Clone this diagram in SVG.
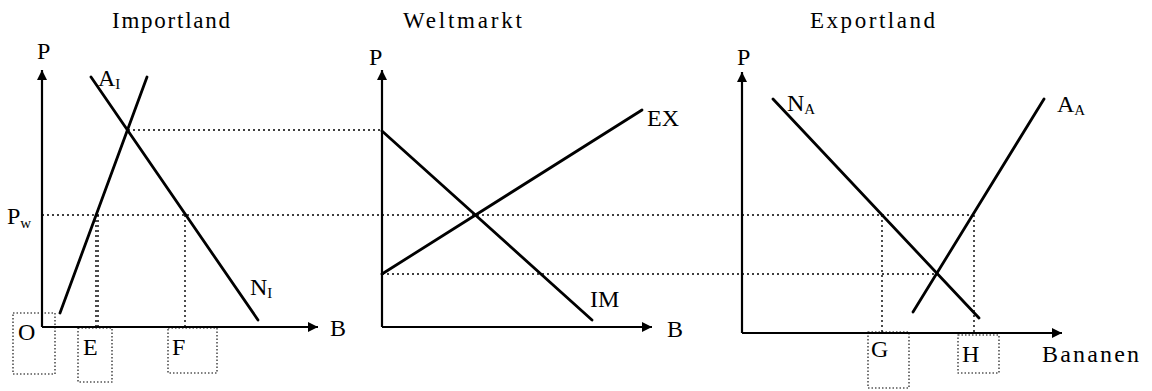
<svg xmlns="http://www.w3.org/2000/svg" width="1152" height="391" viewBox="0 0 1152 391">
<defs>
<marker id="arr" viewBox="0 0 10 10" refX="10" refY="5" markerWidth="11" markerHeight="10" markerUnits="userSpaceOnUse" orient="auto">
<path d="M0,0 L10,5 L0,10 z" fill="#000"/>
</marker>
<style>
text{font-family:"Liberation Serif","Times New Roman",serif;font-size:24px;fill:#000}
.sub{font-size:15px}
.title{font-size:23px}
.axis{stroke:#000;stroke-width:2.2;fill:none}
.curve{stroke:#000;stroke-width:2.8;fill:none;stroke-linecap:round}
.dot{stroke:#000;stroke-width:1.4;stroke-dasharray:2,3;fill:none}
.box{stroke:#000;stroke-width:1.1;stroke-dasharray:1.5,2;fill:none}
</style>
</defs>
<rect width="1152" height="391" fill="#fff"/>

<g id="guides">
<line class="dot" x1="128" y1="130" x2="382" y2="130"/>
<line class="dot" x1="42" y1="215" x2="974" y2="215"/>
<line class="dot" x1="382" y1="274" x2="937" y2="274"/>
<line class="dot" x1="96" y1="215" x2="96" y2="327"/>
<line class="dot" x1="98" y1="215" x2="98" y2="327"/>
<line class="dot" x1="185" y1="215" x2="185" y2="327"/>
<line class="dot" x1="882" y1="215" x2="882" y2="333"/>
<line class="dot" x1="974" y1="215" x2="974" y2="333"/>
</g>

<g id="importland">
<text class="title" x="112" y="28" textLength="118" lengthAdjust="spacing">Importland</text>
<line class="axis" x1="42" y1="327" x2="42" y2="70" marker-end="url(#arr)"/>
<line class="axis" x1="42" y1="327" x2="318" y2="327" marker-end="url(#arr)"/>
<line class="curve" x1="60" y1="313" x2="147" y2="77"/>
<line class="curve" x1="91" y1="77" x2="258" y2="320"/>
<text x="37" y="59">P</text>
<text x="98" y="86">A<tspan class="sub" dy="3">I</tspan></text>
<text x="250" y="295">N<tspan class="sub" dy="3">I</tspan></text>
<text x="7" y="224">P<tspan class="sub" dy="4">w</tspan></text>
<text x="330" y="336">B</text>
<rect class="box" x="13" y="313" width="42" height="61"/>
<rect class="box" x="78" y="328" width="34" height="54"/>
<rect class="box" x="168" y="328" width="49" height="45"/>
<text x="18" y="340">O</text>
<text x="83" y="355">E</text>
<text x="172" y="355">F</text>
</g>

<g id="weltmarkt">
<text class="title" x="403" y="28" textLength="119" lengthAdjust="spacing">Weltmarkt</text>
<line class="axis" x1="382" y1="327" x2="382" y2="70" marker-end="url(#arr)"/>
<line class="axis" x1="382" y1="327" x2="652" y2="327" marker-end="url(#arr)"/>
<line class="curve" x1="382" y1="131" x2="592" y2="320"/>
<line class="curve" x1="382" y1="274" x2="642" y2="110"/>
<text x="369" y="65">P</text>
<text x="647" y="126">EX</text>
<text x="590" y="307">IM</text>
<text x="667" y="337">B</text>
</g>

<g id="exportland">
<text class="title" x="810" y="28" textLength="125" lengthAdjust="spacing">Exportland</text>
<line class="axis" x1="742" y1="333" x2="742" y2="72" marker-end="url(#arr)"/>
<line class="axis" x1="742" y1="333" x2="1062" y2="333" marker-end="url(#arr)"/>
<line class="curve" x1="773" y1="99" x2="979" y2="318"/>
<line class="curve" x1="913" y1="312" x2="1044" y2="99"/>
<text x="737" y="65">P</text>
<text x="787" y="111">N<tspan class="sub" dy="3">A</tspan></text>
<text x="1057" y="112">A<tspan class="sub" dy="3">A</tspan></text>
<rect class="box" x="868" y="332" width="41" height="56"/>
<rect class="box" x="958" y="335" width="41" height="38"/>
<text x="871" y="357">G</text>
<text x="962" y="362">H</text>
<text x="1042" y="362" font-size="23" textLength="97" lengthAdjust="spacing">Bananen</text>
</g>
</svg>
